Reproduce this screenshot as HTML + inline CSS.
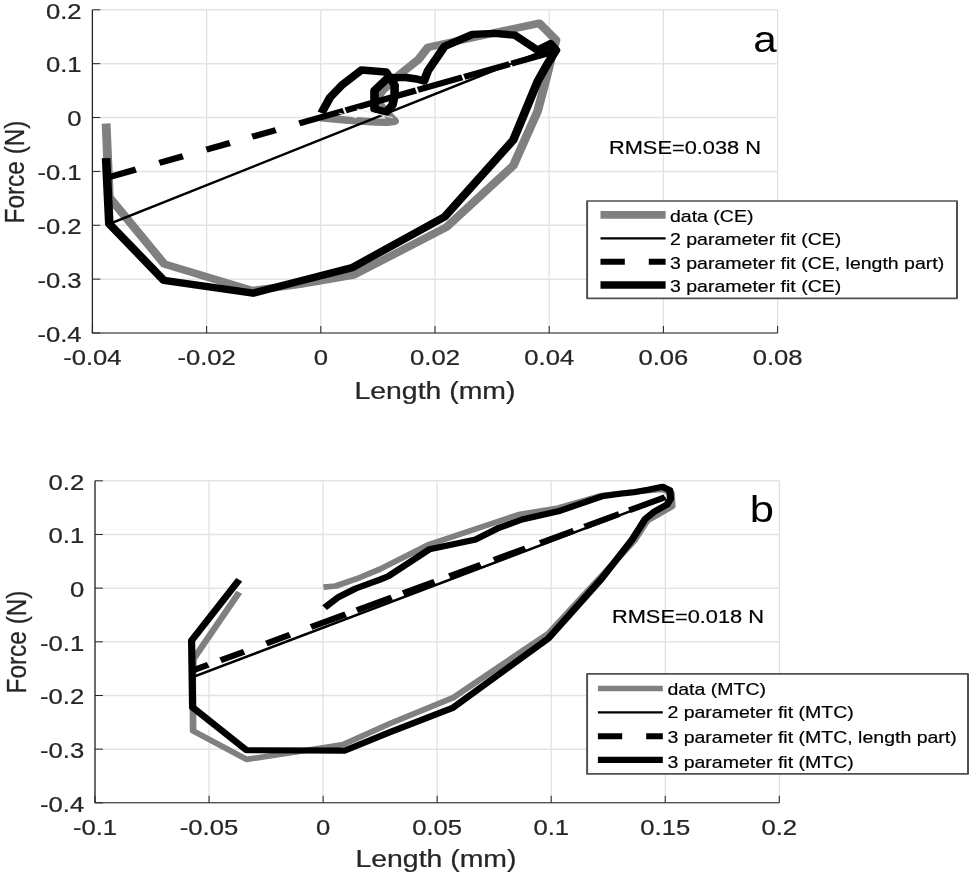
<!DOCTYPE html>
<html lang="en">
<head>
<meta charset="utf-8">
<title>Force-length fits</title>
<style>
html,body{margin:0;padding:0;background:#fff;}
body{width:969px;height:874px;overflow:hidden;}
svg{display:block;}
text{font-family:"Liberation Sans",Arial,Helvetica,sans-serif;}
.tk{font-size:22.8px;fill:#262626;stroke:#262626;stroke-width:0.25px;}
.lb{font-size:24.4px;fill:#262626;stroke:#262626;stroke-width:0.25px;}
.pl{font-size:38.5px;fill:#000;}
.rm{font-size:18.7px;fill:#000;stroke:#000;stroke-width:0.2px;}
.lg{font-size:16.75px;fill:#000;stroke:#000;stroke-width:0.2px;}
</style>
</head>
<body>
<svg width="969" height="874" viewBox="0 0 969 874">
<rect x="0" y="0" width="969" height="874" fill="#ffffff"/>
<g transform="scale(1.165,1)">
<line x1="79.31" y1="9.8" x2="79.31" y2="333.0" stroke="#dfdfdf" stroke-width="1"/>
<line x1="177.34" y1="9.8" x2="177.34" y2="333.0" stroke="#dfdfdf" stroke-width="1"/>
<line x1="275.36" y1="9.8" x2="275.36" y2="333.0" stroke="#dfdfdf" stroke-width="1"/>
<line x1="373.39" y1="9.8" x2="373.39" y2="333.0" stroke="#dfdfdf" stroke-width="1"/>
<line x1="471.42" y1="9.8" x2="471.42" y2="333.0" stroke="#dfdfdf" stroke-width="1"/>
<line x1="569.44" y1="9.8" x2="569.44" y2="333.0" stroke="#dfdfdf" stroke-width="1"/>
<line x1="667.47" y1="9.8" x2="667.47" y2="333.0" stroke="#dfdfdf" stroke-width="1"/>
<line x1="79.31" y1="9.8" x2="667.55" y2="9.8" stroke="#e3e3e3" stroke-width="1.5"/>
<line x1="79.31" y1="63.67" x2="667.55" y2="63.67" stroke="#e3e3e3" stroke-width="1.5"/>
<line x1="79.31" y1="117.53999999999999" x2="667.55" y2="117.53999999999999" stroke="#e3e3e3" stroke-width="1.5"/>
<line x1="79.31" y1="171.41" x2="667.55" y2="171.41" stroke="#e3e3e3" stroke-width="1.5"/>
<line x1="79.31" y1="225.28" x2="667.55" y2="225.28" stroke="#e3e3e3" stroke-width="1.5"/>
<line x1="79.31" y1="279.15" x2="667.55" y2="279.15" stroke="#e3e3e3" stroke-width="1.5"/>
<line x1="79.31" y1="333.02" x2="667.55" y2="333.02" stroke="#e3e3e3" stroke-width="1.5"/>
<polyline points="91.07,123.50 92.62,165.00 93.82,197.30 141.03,264.00 216.48,290.70 257.51,284.20 303.61,275.10 383.00,227.30 440.60,165.60 461.37,111.50 467.73,83.60 472.53,61.30 477.25,40.00 462.92,23.20 432.62,30.70 367.30,47.40 359.31,59.40 343.35,74.30 327.90,91.00 322.75,100.00 331.33,112.50 338.71,121.20 332.10,122.20 321.89,122.00 296.14,120.00 275.28,117.60" fill="none" stroke="#808080" stroke-width="7.6" stroke-linejoin="round"/>
<line x1="93.99" y1="223.9" x2="474.68" y2="47.0" stroke="#000" stroke-width="2.4"/>
<line x1="94.42" y1="176.80" x2="116.57" y2="169.52" stroke="#000" stroke-width="6.1"/>
<line x1="136.74" y1="162.89" x2="157.00" y2="156.24" stroke="#000" stroke-width="6.1"/>
<line x1="177.17" y1="149.61" x2="197.34" y2="142.98" stroke="#000" stroke-width="6.1"/>
<line x1="216.48" y1="136.69" x2="236.74" y2="130.03" stroke="#000" stroke-width="6.1"/>
<line x1="256.91" y1="123.41" x2="294.94" y2="110.91" stroke="#000" stroke-width="6.1"/>
<line x1="296.65" y1="110.35" x2="357.00" y2="90.52" stroke="#000" stroke-width="6.1"/>
<line x1="358.71" y1="89.95" x2="396.74" y2="77.46" stroke="#000" stroke-width="6.1"/>
<line x1="398.45" y1="76.89" x2="437.34" y2="64.12" stroke="#000" stroke-width="6.1"/>
<line x1="439.06" y1="63.55" x2="477.25" y2="51.00" stroke="#000" stroke-width="6.1"/>
<polyline points="275.97,113.00 283.26,97.50 293.56,85.00 310.30,70.00 331.33,72.00 338.71,85.00 338.71,95.40 337.00,104.70 331.67,112.00 321.46,109.00 321.46,90.50 333.48,77.20 341.46,77.60 348.24,77.50 357.68,79.00 363.95,81.00 367.38,70.60 381.63,46.40 405.58,34.40 424.64,33.40 442.23,35.30 461.37,50.20 472.53,43.70 477.25,50.20 469.36,65.00 461.37,81.70 440.60,140.00 381.89,216.60 302.40,267.60 257.51,281.00 217.17,293.20 140.60,280.30 93.82,223.80 91.07,158.20" fill="none" stroke="#000" stroke-width="7.4" stroke-linejoin="round"/>
<line x1="290.99" y1="113.3" x2="306.27" y2="117.7" stroke="#ececec" stroke-width="1"/>
<line x1="306.27" y1="109.0" x2="337.08" y2="117.7" stroke="#ececec" stroke-width="1"/>
<line x1="295.28" y1="108.6" x2="296.65" y2="113.6" stroke="#ececec" stroke-width="1"/>
<path d="M79.31,9.8 V333.0 H667.55" fill="none" stroke="#262626" stroke-width="1.1"/>
<line x1="79.31" y1="333.0" x2="79.31" y2="326.0" stroke="#262626" stroke-width="0.9"/>
<text transform="translate(79.31,364.9) scale(0.965,1)" text-anchor="middle" class="tk">-0.04</text>
<line x1="177.34" y1="333.0" x2="177.34" y2="326.0" stroke="#262626" stroke-width="0.9"/>
<text transform="translate(177.34,364.9) scale(0.965,1)" text-anchor="middle" class="tk">-0.02</text>
<line x1="275.36" y1="333.0" x2="275.36" y2="326.0" stroke="#262626" stroke-width="0.9"/>
<text transform="translate(275.36,364.9) scale(0.965,1)" text-anchor="middle" class="tk">0</text>
<line x1="373.39" y1="333.0" x2="373.39" y2="326.0" stroke="#262626" stroke-width="0.9"/>
<text transform="translate(373.39,364.9) scale(0.965,1)" text-anchor="middle" class="tk">0.02</text>
<line x1="471.42" y1="333.0" x2="471.42" y2="326.0" stroke="#262626" stroke-width="0.9"/>
<text transform="translate(471.42,364.9) scale(0.965,1)" text-anchor="middle" class="tk">0.04</text>
<line x1="569.44" y1="333.0" x2="569.44" y2="326.0" stroke="#262626" stroke-width="0.9"/>
<text transform="translate(569.44,364.9) scale(0.965,1)" text-anchor="middle" class="tk">0.06</text>
<line x1="667.47" y1="333.0" x2="667.47" y2="326.0" stroke="#262626" stroke-width="0.9"/>
<text transform="translate(667.47,364.9) scale(0.965,1)" text-anchor="middle" class="tk">0.08</text>
<line x1="79.31" y1="9.8" x2="86.11" y2="9.8" stroke="#262626" stroke-width="1"/>
<text transform="translate(70.04,18.5) scale(0.965,1)" text-anchor="end" class="tk">0.2</text>
<line x1="79.31" y1="63.67" x2="86.11" y2="63.67" stroke="#262626" stroke-width="1"/>
<text transform="translate(70.04,72.4) scale(0.965,1)" text-anchor="end" class="tk">0.1</text>
<line x1="79.31" y1="117.53999999999999" x2="86.11" y2="117.53999999999999" stroke="#262626" stroke-width="1"/>
<text transform="translate(70.04,126.2) scale(0.965,1)" text-anchor="end" class="tk">0</text>
<line x1="79.31" y1="171.41" x2="86.11" y2="171.41" stroke="#262626" stroke-width="1"/>
<text transform="translate(70.04,180.1) scale(0.965,1)" text-anchor="end" class="tk">-0.1</text>
<line x1="79.31" y1="225.28" x2="86.11" y2="225.28" stroke="#262626" stroke-width="1"/>
<text transform="translate(70.04,234.0) scale(0.965,1)" text-anchor="end" class="tk">-0.2</text>
<line x1="79.31" y1="279.15" x2="86.11" y2="279.15" stroke="#262626" stroke-width="1"/>
<text transform="translate(70.04,287.8) scale(0.965,1)" text-anchor="end" class="tk">-0.3</text>
<line x1="79.31" y1="333.02" x2="86.11" y2="333.02" stroke="#262626" stroke-width="1"/>
<text transform="translate(70.04,341.7) scale(0.965,1)" text-anchor="end" class="tk">-0.4</text>
<text x="373.39" y="398.8" text-anchor="middle" class="lb">Length (mm)</text>
<text transform="translate(20.60,172) rotate(-90)" text-anchor="middle" class="lb">Force (N)</text>
<text x="666.70" y="52.3" text-anchor="end" class="pl" style="font-size:36.2px">a</text>
<text x="522.75" y="153.7" class="rm">RMSE=0.038 N</text>
<rect x="503.95" y="201.0" width="317.51" height="97.30" fill="#fff" stroke="#505050" stroke-width="1.7" stroke-linejoin="round"/>
<line x1="515.45" y1="214.9" x2="571.33" y2="214.9" stroke="#808080" stroke-width="7.6"/>
<line x1="515.45" y1="238.4" x2="571.33" y2="238.4" stroke="#000" stroke-width="2.4"/>
<line x1="515.45" y1="261.8" x2="571.33" y2="261.8" stroke="#000" stroke-width="6.1" stroke-dasharray="20.86 20.60"/>
<line x1="515.45" y1="285.0" x2="571.33" y2="285.0" stroke="#000" stroke-width="7.4"/>
<text x="575.11" y="222.3" class="lg">data (CE)</text>
<text x="575.11" y="244.6" class="lg">2 parameter fit (CE)</text>
<text x="575.11" y="269.0" class="lg">3 parameter fit (CE, length part)</text>
<text x="575.11" y="292.1" class="lg">3 parameter fit (CE)</text>
<line x1="81.55" y1="480.8" x2="81.55" y2="802.8" stroke="#dfdfdf" stroke-width="1"/>
<line x1="179.44" y1="480.8" x2="179.44" y2="802.8" stroke="#dfdfdf" stroke-width="1"/>
<line x1="277.34" y1="480.8" x2="277.34" y2="802.8" stroke="#dfdfdf" stroke-width="1"/>
<line x1="375.24" y1="480.8" x2="375.24" y2="802.8" stroke="#dfdfdf" stroke-width="1"/>
<line x1="473.13" y1="480.8" x2="473.13" y2="802.8" stroke="#dfdfdf" stroke-width="1"/>
<line x1="571.03" y1="480.8" x2="571.03" y2="802.8" stroke="#dfdfdf" stroke-width="1"/>
<line x1="668.93" y1="480.8" x2="668.93" y2="802.8" stroke="#dfdfdf" stroke-width="1"/>
<line x1="81.55" y1="480.8" x2="668.93" y2="480.8" stroke="#e3e3e3" stroke-width="1.5"/>
<line x1="81.55" y1="534.47" x2="668.93" y2="534.47" stroke="#e3e3e3" stroke-width="1.5"/>
<line x1="81.55" y1="588.14" x2="668.93" y2="588.14" stroke="#e3e3e3" stroke-width="1.5"/>
<line x1="81.55" y1="641.81" x2="668.93" y2="641.81" stroke="#e3e3e3" stroke-width="1.5"/>
<line x1="81.55" y1="695.48" x2="668.93" y2="695.48" stroke="#e3e3e3" stroke-width="1.5"/>
<line x1="81.55" y1="749.1500000000001" x2="668.93" y2="749.1500000000001" stroke="#e3e3e3" stroke-width="1.5"/>
<line x1="81.55" y1="802.8199999999999" x2="668.93" y2="802.8199999999999" stroke="#e3e3e3" stroke-width="1.5"/>
<polyline points="277.60,587.20 288.24,586.00 309.44,577.30 326.18,569.10 368.67,544.30 445.24,514.60 479.23,508.00 516.65,495.50 542.66,492.00 568.58,489.50 576.39,493.00 577.08,506.30 555.36,521.00 544.21,541.00 470.73,633.50 388.58,697.90 334.76,723.50 294.59,744.50 260.60,750.70 211.67,759.40 165.75,730.90 165.49,680.00 166.09,659.00 205.32,592.20" fill="none" stroke="#808080" stroke-width="5.7" stroke-linejoin="round"/>
<line x1="165.92" y1="676.9" x2="571.42" y2="497.8" stroke="#000" stroke-width="2.4"/>
<line x1="165.92" y1="670.30" x2="178.71" y2="664.83" stroke="#000" stroke-width="6.0"/>
<line x1="189.36" y1="660.28" x2="209.53" y2="651.66" stroke="#000" stroke-width="6.0"/>
<line x1="228.67" y1="643.47" x2="248.84" y2="634.85" stroke="#000" stroke-width="6.0"/>
<line x1="266.95" y1="627.11" x2="296.74" y2="614.37" stroke="#000" stroke-width="6.0"/>
<line x1="306.27" y1="610.30" x2="336.14" y2="597.53" stroke="#000" stroke-width="6.0"/>
<line x1="346.01" y1="593.31" x2="372.96" y2="581.79" stroke="#000" stroke-width="6.0"/>
<line x1="385.75" y1="576.32" x2="412.62" y2="564.83" stroke="#000" stroke-width="6.0"/>
<line x1="423.95" y1="559.99" x2="450.90" y2="548.47" stroke="#000" stroke-width="6.0"/>
<line x1="463.69" y1="543.00" x2="492.45" y2="530.70" stroke="#000" stroke-width="6.0"/>
<line x1="501.80" y1="526.70" x2="531.50" y2="514.01" stroke="#000" stroke-width="6.0"/>
<line x1="540.26" y1="510.26" x2="570.82" y2="497.20" stroke="#000" stroke-width="6.0"/>
<polyline points="278.63,607.60 290.30,597.20 305.24,588.50 326.18,579.60 333.30,576.30 368.67,549.30 408.41,539.40 428.24,527.80 448.07,519.50 479.23,511.30 516.65,496.30 532.19,493.80 544.21,492.20 556.22,489.80 568.76,486.80 574.94,490.20 575.54,498.90 572.45,504.70 561.29,511.90 553.82,519.10 542.66,539.40 516.14,579.00 470.73,638.40 388.58,707.80 334.76,732.10 295.62,750.70 211.67,750.20 165.32,707.40 164.46,640.50 205.32,579.80" fill="none" stroke="#000" stroke-width="6.2" stroke-linejoin="round"/>
<path d="M81.55,480.8 V802.8 H668.93" fill="none" stroke="#262626" stroke-width="1.1"/>
<line x1="81.55" y1="802.8" x2="81.55" y2="795.8" stroke="#262626" stroke-width="0.9"/>
<text transform="translate(81.55,834.7) scale(0.965,1)" text-anchor="middle" class="tk">-0.1</text>
<line x1="179.44" y1="802.8" x2="179.44" y2="795.8" stroke="#262626" stroke-width="0.9"/>
<text transform="translate(179.44,834.7) scale(0.965,1)" text-anchor="middle" class="tk">-0.05</text>
<line x1="277.34" y1="802.8" x2="277.34" y2="795.8" stroke="#262626" stroke-width="0.9"/>
<text transform="translate(277.34,834.7) scale(0.965,1)" text-anchor="middle" class="tk">0</text>
<line x1="375.24" y1="802.8" x2="375.24" y2="795.8" stroke="#262626" stroke-width="0.9"/>
<text transform="translate(375.24,834.7) scale(0.965,1)" text-anchor="middle" class="tk">0.05</text>
<line x1="473.13" y1="802.8" x2="473.13" y2="795.8" stroke="#262626" stroke-width="0.9"/>
<text transform="translate(473.13,834.7) scale(0.965,1)" text-anchor="middle" class="tk">0.1</text>
<line x1="571.03" y1="802.8" x2="571.03" y2="795.8" stroke="#262626" stroke-width="0.9"/>
<text transform="translate(571.03,834.7) scale(0.965,1)" text-anchor="middle" class="tk">0.15</text>
<line x1="668.93" y1="802.8" x2="668.93" y2="795.8" stroke="#262626" stroke-width="0.9"/>
<text transform="translate(668.93,834.7) scale(0.965,1)" text-anchor="middle" class="tk">0.2</text>
<line x1="81.55" y1="480.8" x2="88.35" y2="480.8" stroke="#262626" stroke-width="1"/>
<text transform="translate(72.27,489.5) scale(0.965,1)" text-anchor="end" class="tk">0.2</text>
<line x1="81.55" y1="534.47" x2="88.35" y2="534.47" stroke="#262626" stroke-width="1"/>
<text transform="translate(72.27,543.2) scale(0.965,1)" text-anchor="end" class="tk">0.1</text>
<line x1="81.55" y1="588.14" x2="88.35" y2="588.14" stroke="#262626" stroke-width="1"/>
<text transform="translate(72.27,596.8) scale(0.965,1)" text-anchor="end" class="tk">0</text>
<line x1="81.55" y1="641.81" x2="88.35" y2="641.81" stroke="#262626" stroke-width="1"/>
<text transform="translate(72.27,650.5) scale(0.965,1)" text-anchor="end" class="tk">-0.1</text>
<line x1="81.55" y1="695.48" x2="88.35" y2="695.48" stroke="#262626" stroke-width="1"/>
<text transform="translate(72.27,704.2) scale(0.965,1)" text-anchor="end" class="tk">-0.2</text>
<line x1="81.55" y1="749.1500000000001" x2="88.35" y2="749.1500000000001" stroke="#262626" stroke-width="1"/>
<text transform="translate(72.27,757.9) scale(0.965,1)" text-anchor="end" class="tk">-0.3</text>
<line x1="81.55" y1="802.8199999999999" x2="88.35" y2="802.8199999999999" stroke="#262626" stroke-width="1"/>
<text transform="translate(72.27,811.5) scale(0.965,1)" text-anchor="end" class="tk">-0.4</text>
<text x="374.25" y="867.4" text-anchor="middle" class="lb">Length (mm)</text>
<text transform="translate(22.58,642) rotate(-90)" text-anchor="middle" class="lb">Force (N)</text>
<text x="664.38" y="521.6" text-anchor="end" class="pl" style="font-size:37.4px">b</text>
<text x="525.32" y="623.2" class="rm">RMSE=0.018 N</text>
<rect x="503.95" y="673.8" width="326.95" height="100.10" fill="#fff" stroke="#505050" stroke-width="1.7" stroke-linejoin="round"/>
<line x1="513.22" y1="688.5" x2="568.93" y2="688.5" stroke="#808080" stroke-width="5.7"/>
<line x1="513.22" y1="712.4" x2="568.93" y2="712.4" stroke="#000" stroke-width="2.4"/>
<line x1="513.22" y1="736.2" x2="568.93" y2="736.2" stroke="#000" stroke-width="6.0" stroke-dasharray="20.86 20.60"/>
<line x1="513.22" y1="759.9" x2="568.93" y2="759.9" stroke="#000" stroke-width="6.2"/>
<text x="572.88" y="695.0" class="lg">data (MTC)</text>
<text x="572.88" y="718.5" class="lg">2 parameter fit (MTC)</text>
<text x="572.88" y="743.2" class="lg">3 parameter fit (MTC, length part)</text>
<text x="572.88" y="767.6" class="lg">3 parameter fit (MTC)</text>
</g>
</svg>
</body>
</html>
